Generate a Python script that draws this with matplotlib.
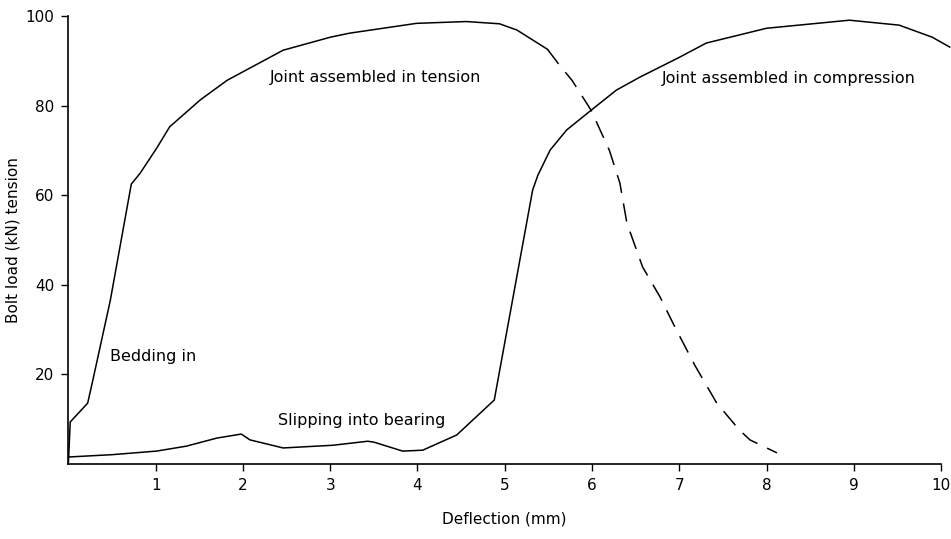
import matplotlib
matplotlib.use("Agg")
import matplotlib.pyplot as plt

# joint assembled in tension: bedding in, then yield (solid), then unloading (dashed)
tension_x = [0.0, 0.01, 0.02, 0.22, 0.28, 0.48, 0.72, 0.82, 1.01, 1.16, 1.51, 1.82,
             2.46, 3.0, 3.22, 3.99, 4.56, 4.94, 5.14, 5.49]
tension_y = [0.5, 5.0, 9.4, 13.6, 18.8, 36.6, 62.5, 64.9, 70.5, 75.3, 81.3, 85.7,
             92.4, 95.3, 96.2, 98.4, 98.8, 98.3, 96.9, 92.6]

unload_x = [5.49, 5.63, 5.77, 5.99, 6.2, 6.32, 6.4, 6.58, 6.78, 6.95, 7.18, 7.43,
            7.69, 7.81, 8.12]
unload_y = [92.6, 89.0, 85.7, 79.0, 70.0, 62.7, 53.8, 44.0, 37.3, 30.6, 22.0, 13.6,
            7.6, 5.4, 2.5]

# joint assembled in compression: slipping into bearing then loading
comp_x = [0.0, 0.02, 0.5, 1.01, 1.35, 1.7, 1.98, 2.08, 2.46, 3.03, 3.43, 3.5, 3.83,
          4.06, 4.45, 4.88, 5.32, 5.38, 5.52, 5.71, 5.99, 6.28, 6.55, 7.0, 7.31,
          8.0, 8.95, 9.52, 9.9, 10.1]
comp_y = [1.6, 1.6, 2.1, 2.9, 4.0, 5.8, 6.7, 5.4, 3.6, 4.2, 5.1, 4.9, 2.9,
          3.1, 6.5, 14.3, 61.2, 64.5, 70.1, 74.6, 79.0, 83.5, 86.4, 90.8, 94.0,
          97.3, 99.1, 98.0, 95.3, 93.1]

x_ticks = [1, 2, 3, 4, 5, 6, 7, 8, 9, 10]
y_ticks = [20, 40, 60, 80, 100]

plt.rcParams['font.family'] = ['DejaVu Sans']

fig = plt.figure(figsize=(9.51, 5.39), dpi=100)
ax = fig.add_axes([0.072, 0.139, 0.9175, 0.831])

ax.plot(tension_x, tension_y, color='black', lw=1.1)
ax.plot(unload_x, unload_y, color='black', lw=1.1, dashes=(12, 7))
ax.plot(comp_x, comp_y, color='black', lw=1.1, clip_on=False)

ax.set_xlim(0, 10)
ax.set_ylim(0, 100)
ax.set_xticks(x_ticks)
ax.set_yticks(y_ticks)
ax.tick_params(direction='out', length=5, width=1, labelsize=11, pad=5)
for side in ('top', 'right'):
    ax.spines[side].set_visible(False)
for side in ('left', 'bottom'):
    ax.spines[side].set_linewidth(1.2)

ax.set_xlabel('Deflection (mm)', fontsize=11, labelpad=13)
ax.set_ylabel('Bolt load (kN) tension', fontsize=11, labelpad=4)

ax.text(2.31, 86.4, 'Joint assembled in tension', fontsize=11.5, va='center')
ax.text(6.8, 86.0, 'Joint assembled in compression', fontsize=11.5, va='center')
ax.text(0.475, 24.1, 'Bedding in', fontsize=11.5, va='center')
ax.text(2.4, 9.8, 'Slipping into bearing', fontsize=11.5, va='center')

fig.savefig('out.png', dpi=100)
